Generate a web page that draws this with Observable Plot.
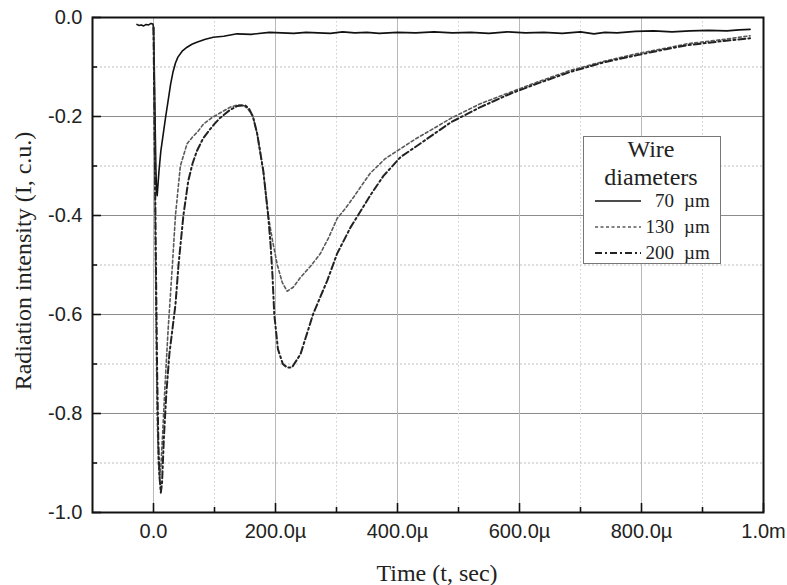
<!DOCTYPE html>
<html>
<head>
<meta charset="utf-8">
<script src="https://cdn.jsdelivr.net/npm/d3@7"></script>
<script src="https://cdn.jsdelivr.net/npm/@observablehq/plot@0.6"></script>
<style>
  html, body { margin: 0; padding: 0; background: #fff; }
  #wrap { position: relative; width: 787px; height: 585px; }
  #legend { position: absolute; left: 583px; top: 136px; }
</style>
</head>
<body>
<div id="wrap"></div>
<script>
// ---- data (time in µs, intensity in c.u.) ----
const seriesLabels = ["70", "130", "200"];
const unitLabel = "µm";
const legendTitle = ["Wire", "diameters"];
const xTitle = "Time (t, sec)";
const yTitle = "Radiation intensity (I, c.u.)";

const t70 = [-27,-24,-20,-16,-12,-8,-4,-1,0,1,2,3,4,5,6,9,12,16,20,24,28,32,36,40,47,55,63,71,85,98,115,137,160,190,210,230,250,270,290,310,330,350,370,400,430,460,490,520,550,580,610,640,670,700,722,740,760,790,820,850,880,910,940,960,978];
const v70 = [-0.014,-0.016,-0.015,-0.017,-0.014,-0.015,-0.012,-0.013,-0.02,-0.08,-0.16,-0.24,-0.31,-0.35,-0.36,-0.31,-0.27,-0.235,-0.2,-0.168,-0.135,-0.11,-0.092,-0.08,-0.068,-0.06,-0.054,-0.05,-0.044,-0.04,-0.038,-0.033,-0.034,-0.03,-0.031,-0.032,-0.03,-0.031,-0.032,-0.029,-0.031,-0.03,-0.032,-0.03,-0.031,-0.029,-0.031,-0.03,-0.032,-0.029,-0.031,-0.03,-0.032,-0.029,-0.033,-0.03,-0.031,-0.028,-0.027,-0.029,-0.027,-0.026,-0.027,-0.025,-0.024];

const t130 = [0,2,4,6,8,10,12,15,19,24,31,36,44,55,65,73,82,95,109,126,137,147,155,163,170,180,188,195,203,211,219,229,241,257,273,287,301,315,328,355,380,405,430,454,487,536,585,630,683,740,793,840,875,930,978];
const v130 = [-0.02,-0.3,-0.6,-0.8,-0.9,-0.93,-0.91,-0.84,-0.74,-0.63,-0.5,-0.4,-0.3,-0.255,-0.24,-0.23,-0.215,-0.203,-0.193,-0.181,-0.177,-0.177,-0.185,-0.2,-0.235,-0.31,-0.4,-0.45,-0.5,-0.535,-0.553,-0.545,-0.525,-0.503,-0.478,-0.445,-0.406,-0.385,-0.363,-0.315,-0.285,-0.265,-0.245,-0.228,-0.204,-0.174,-0.151,-0.13,-0.107,-0.088,-0.073,-0.062,-0.053,-0.045,-0.037];

const t200 = [0,2,4,6,8,10,12,14,17,21,26,31,36,41,49,57,64,71,81,90,100,109,125,137,150,157,163,170,180,188,192,195,198,204,212,219,227,241,262,285,301,323,355,377,405,437,487,536,585,630,683,740,793,840,875,930,978];
const v200 = [-0.02,-0.25,-0.5,-0.72,-0.86,-0.93,-0.96,-0.94,-0.85,-0.76,-0.68,-0.63,-0.58,-0.5,-0.4,-0.33,-0.295,-0.27,-0.245,-0.23,-0.215,-0.203,-0.187,-0.179,-0.177,-0.185,-0.2,-0.235,-0.31,-0.4,-0.46,-0.52,-0.6,-0.67,-0.7,-0.707,-0.707,-0.68,-0.598,-0.531,-0.477,-0.424,-0.36,-0.32,-0.282,-0.255,-0.212,-0.181,-0.154,-0.133,-0.11,-0.09,-0.076,-0.064,-0.056,-0.048,-0.042];

const xMajor = [0, 200, 400, 600, 800, 1000];
const xMinor = [100, 300, 500, 700, 900];
const yMajor = [0, -0.2, -0.4, -0.6, -0.8, -1.0];
const yMinor = [-0.1, -0.3, -0.5, -0.7, -0.9];

const toRows = (t, v) => t.map((x, i) => ({t: x, v: v[i]}));
const d70 = toRows(t70, v70), d130 = toRows(t130, v130), d200 = toRows(t200, v200);

const styles = [
  {stroke: "#111", strokeWidth: 1.6, dash: null},
  {stroke: "#5a5a5a", strokeWidth: 1.6, dash: "3,2.5"},
  {stroke: "#222", strokeWidth: 2, dash: "7,3,2,3"}
];

const W = 787, H = 585, mL = 92, mR = 24, mT = 17, mB = 73;
const plotW = W - mL - mR, plotH = H - mT - mB;

const xFmt = d => d === 0 ? "0.0" : (d >= 1000 ? (d / 1000).toFixed(1) + "m" : d.toFixed(1) + "µ");
const serif = "'Liberation Serif', 'Times New Roman', serif";

const chart = Plot.plot({
  width: W, height: H,
  marginLeft: mL, marginRight: mR, marginTop: mT, marginBottom: mB,
  style: {background: "#fff", fontFamily: "'Liberation Sans', Arial, sans-serif", color: "#222"},
  x: {domain: [-100, 1000]},
  y: {domain: [-1.0, 0.0]},
  marks: [
    Plot.ruleY(yMinor, {stroke: "#bdbdbd", strokeDasharray: "2,2"}),
    Plot.ruleY([-0.2, -0.4, -0.6, -0.8], {stroke: "#8c8c8c", strokeWidth: 1}),
    Plot.ruleX(xMinor, {stroke: "#cfcfcf", strokeDasharray: "1.5,2.5"}),
    Plot.ruleX([0, 200, 400, 600, 800], {stroke: "#b8b8b8", strokeWidth: 1}),
    Plot.line(d70, {x: "t", y: "v", stroke: styles[0].stroke, strokeWidth: styles[0].strokeWidth}),
    Plot.line(d130, {x: "t", y: "v", stroke: styles[1].stroke, strokeWidth: styles[1].strokeWidth, strokeDasharray: styles[1].dash}),
    Plot.line(d200, {x: "t", y: "v", stroke: styles[2].stroke, strokeWidth: styles[2].strokeWidth, strokeDasharray: styles[2].dash}),
    // inward ticks
    Plot.ruleX(xMajor, {insetTop: plotH - 9, stroke: "#111", strokeWidth: 1.6}),
    Plot.ruleX(xMinor, {insetTop: plotH - 5, stroke: "#111", strokeWidth: 1.6}),
    Plot.ruleY(yMajor, {insetRight: plotW - 9, stroke: "#111", strokeWidth: 1.6}),
    Plot.ruleY(yMinor, {insetRight: plotW - 5, stroke: "#111", strokeWidth: 1.6}),
    Plot.frame({stroke: "#111", strokeWidth: 2}),
    Plot.axisX(xMajor, {tickSize: 0, tickPadding: 11, tickFormat: xFmt, fontSize: 20, fill: "#222", label: null}),
    Plot.axisY(yMajor, {tickSize: 0, tickPadding: 10, tickFormat: d => d.toFixed(1), fontSize: 20, fill: "#222", label: null}),
    Plot.text([xTitle], {frameAnchor: "bottom", dx: 9, dy: 61, textAnchor: "middle", lineAnchor: "middle", fontFamily: serif, fontSize: 24, fill: "#222"}),
    Plot.text([yTitle], {frameAnchor: "left", dx: -69, dy: -4, rotate: -90, textAnchor: "middle", lineAnchor: "middle", fontFamily: serif, fontSize: 24, fill: "#222"})
  ]
});

const wrap = document.getElementById("wrap");
wrap.appendChild(chart);

// legend overlay
const ns = "http://www.w3.org/2000/svg";
const lg = document.createElementNS(ns, "svg");
lg.setAttribute("id", "legend");
lg.setAttribute("width", 139);
lg.setAttribute("height", 129);
function el(name, attrs, text) {
  const e = document.createElementNS(ns, name);
  for (const k in attrs) e.setAttribute(k, attrs[k]);
  if (text != null) e.textContent = text;
  lg.appendChild(e);
  return e;
}
el("rect", {x: 0.5, y: 0.5, width: 137, height: 127, fill: "#fff", stroke: "#777", "stroke-width": 1});
el("text", {x: 68, y: 21, "text-anchor": "middle", "font-family": serif, "font-size": 24, fill: "#222"}, legendTitle[0]);
el("text", {x: 68, y: 49, "text-anchor": "middle", "font-family": serif, "font-size": 24, fill: "#222"}, legendTitle[1]);
const rowY = [65, 91, 117];
seriesLabels.forEach((lab, i) => {
  const s = styles[i];
  const a = {x1: 12, x2: 58, y1: rowY[i], y2: rowY[i], stroke: s.stroke, "stroke-width": s.strokeWidth};
  if (s.dash) a["stroke-dasharray"] = s.dash;
  el("line", a);
  el("text", {x: 91, y: rowY[i] + 6, "text-anchor": "end", "font-family": serif, "font-size": 19, fill: "#222"}, lab);
  el("text", {x: 101, y: rowY[i] + 6, "font-family": serif, "font-size": 19, fill: "#222"}, unitLabel);
});
wrap.appendChild(lg);
</script>
</body>
</html>
